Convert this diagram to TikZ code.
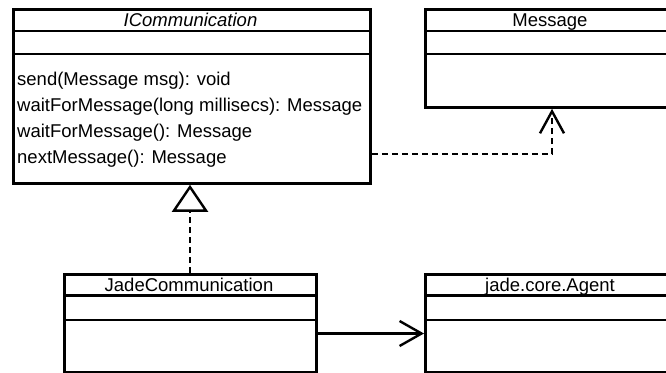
\documentclass[tikz,border=0pt]{standalone}
\usepackage{fontspec}
\setmainfont{Liberation Sans}
\usetikzlibrary{arrows.meta}
\begin{document}
\begin{tikzpicture}[x=1pt,y=1pt,
  classbox/.style={draw, line width=2.8pt, rectangle, inner sep=0pt, anchor=north west},
  sepline/.style={line width=2.8pt},
  txt/.style={font=\fontsize{18.5}{22}\selectfont, inner sep=0pt},
  dep/.style={line width=2.4pt, dash pattern=on 6pt off 4pt},
  assoc/.style={line width=2.4pt}
]
\useasboundingbox (0,0) rectangle (666,-372);
\clip (0,0) rectangle (666,-372);

% ICommunication interface
\node[classbox, minimum width=357pt, minimum height=174pt] (icomm) at (12,-8) {};
\draw[sepline] (12,-31) -- (369,-31);
\draw[sepline] (12,-54) -- (369,-54);
\node[txt, anchor=base] (icommt) at (190.5,-26.5) {\itshape ICommunication};
\node[txt, anchor=base west] (m1) at (17,-85) {send(Message msg): void};
\node[txt, anchor=base west] (m2) at (17,-111) {waitForMessage(long millisecs): Message};
\node[txt, anchor=base west] (m3) at (17,-137) {waitForMessage(): Message};
\node[txt, anchor=base west] (m4) at (17,-163) {nextMessage(): Message};

% Message class
\node[classbox, minimum width=252pt, minimum height=98pt] (msg) at (424,-8) {};
\draw[sepline] (424,-31) -- (676,-31);
\draw[sepline] (424,-54) -- (676,-54);
\node[txt, anchor=base] (msgt) at (550,-26.5) {Message};

% JadeCommunication class
\node[classbox, minimum width=252pt, minimum height=98pt] (jade) at (63,-273) {};
\draw[sepline] (63,-295.5) -- (315,-295.5);
\draw[sepline] (63,-320) -- (315,-320);
\node[txt, anchor=base] (jadet) at (189,-291) {JadeCommunication};

% jade.core.Agent class
\node[classbox, minimum width=252pt, minimum height=98pt] (agent) at (424,-273) {};
\draw[sepline] (424,-295.5) -- (676,-295.5);
\draw[sepline] (424,-320) -- (676,-320);
\node[txt, anchor=base] (agentt) at (550,-291) {jade.core.Agent};

% dependency: ICommunication uses Message
\coordinate (bend) at (552,-154);
\draw[dep, -{Straight Barb[length=22pt, width=24pt, line width=2.4pt]}]
  (icomm.east |- bend) -- (bend) -- (bend |- msg.south);

% realization: JadeCommunication implements ICommunication
\draw[dep, -{Triangle[open, length=27pt, width=36pt, line width=2.4pt, fill=white]}]
  (jade.north -| 190,0) -- (190,0 |- icomm.south);

% association: JadeCommunication -> jade.core.Agent
\coordinate (assocy) at (0,-333.5);
\draw[assoc, -{Straight Barb[length=22pt, width=25pt, line width=2.4pt]}]
  (jade.east |- assocy) -- (agent.west |- assocy);
\end{tikzpicture}
\end{document}
